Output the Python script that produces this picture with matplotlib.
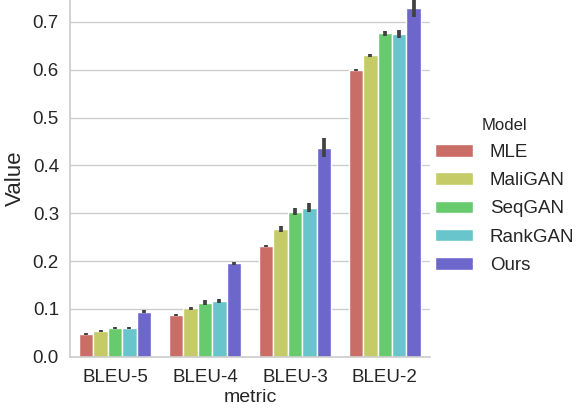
import numpy as np
import matplotlib
matplotlib.use("Agg")
import matplotlib.pyplot as plt
import seaborn as sns

metrics = ["BLEU-5", "BLEU-4", "BLEU-3", "BLEU-2"]
models = ["MLE", "MaliGAN", "SeqGAN", "RankGAN", "Ours"]
values = {
    "MLE":     [0.048, 0.088, 0.231, 0.599],
    "MaliGAN": [0.054, 0.101, 0.267, 0.630],
    "SeqGAN":  [0.060, 0.113, 0.303, 0.676],
    "RankGAN": [0.060, 0.116, 0.312, 0.675],
    "Ours":    [0.094, 0.195, 0.437, 0.729],
}
errors = {
    "MLE":     [0.002, 0.002, 0.002, 0.002],
    "MaliGAN": [0.002, 0.003, 0.007, 0.003],
    "SeqGAN":  [0.002, 0.005, 0.007, 0.005],
    "RankGAN": [0.002, 0.004, 0.009, 0.009],
    "Ours":    [0.003, 0.004, 0.020, 0.018],
}

sns.set_style("whitegrid")
plt.rcParams['font.family'] = ['Liberation Sans', 'DejaVu Sans']

fig = plt.figure(figsize=(5.77, 4.08), dpi=100)
ax = fig.add_axes([0.1213, 0.1257, 0.745 - 0.1213, 1.0 - 0.1257])

pal = [sns.desaturate(c, 0.75) for c in sns.color_palette("hls", 6)[:len(models)]]
x = np.arange(len(metrics))
n = len(models)
w = 0.8 / n
for i, m in enumerate(models):
    pos = x - 0.4 + w * (i + 0.5)
    ax.bar(pos, values[m], width=w, color=pal[i], edgecolor="white", linewidth=1.0,
           label=m, zorder=2)
    ax.errorbar(pos, values[m], yerr=errors[m], fmt="none", ecolor="#424242",
                elinewidth=2.7, capsize=0, zorder=3)

ax.set_xlim(-0.5, len(metrics) - 0.5)
ax.set_ylim(0, 0.746)
ax.set_yticks([0.0, 0.1, 0.2, 0.3, 0.4, 0.5, 0.6, 0.7])
ax.set_yticklabels(["0.0", "0.1", "0.2", "0.3", "0.4", "0.5", "0.6", "0.7"])
ax.set_xticks(x)
ax.set_xticklabels(metrics)
ax.tick_params(axis="y", labelsize=13.5, colors="#262626", length=0, pad=8)
ax.tick_params(axis="x", labelsize=13.5, colors="#262626", length=0, pad=9)
ax.grid(axis="x", visible=False)
ax.grid(axis="y", color="#cccccc", linewidth=1.0, zorder=0)
ax.set_axisbelow(True)
for s in ["top", "right"]:
    ax.spines[s].set_visible(False)
for s in ["left", "bottom"]:
    ax.spines[s].set_color("#cccccc")
    ax.spines[s].set_linewidth(1.2)
ax.set_xlabel("metric", fontsize=14, color="#262626", labelpad=2)
ax.set_ylabel("Value", fontsize=16, color="#262626", labelpad=5)

handles, labels = ax.get_legend_handles_labels()
leg = fig.legend(handles, labels, title="Model", loc="center left",
                 bbox_to_anchor=(0.735, 0.52), frameon=False, fontsize=13.5,
                 title_fontsize=12, handlelength=2.0, handleheight=0.65,
                 labelspacing=0.6, handletextpad=0.9, borderaxespad=0.2)
for t in leg.get_texts():
    t.set_color("#262626")
leg.get_title().set_color("#262626")

fig.savefig("out.png", dpi=100)
